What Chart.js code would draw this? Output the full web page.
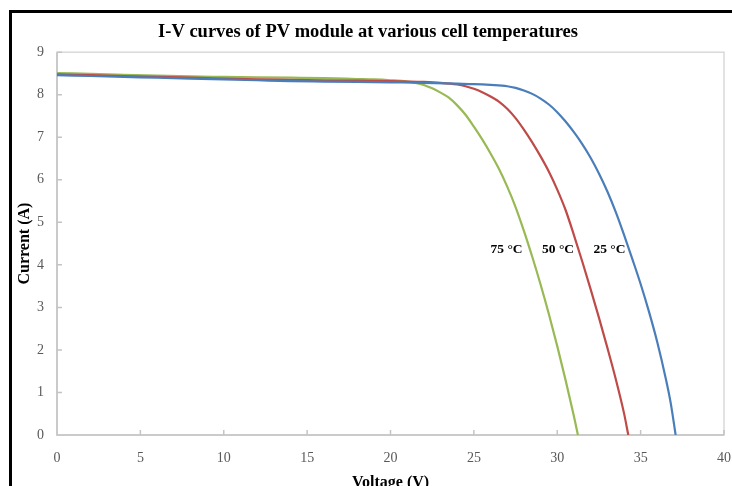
<!DOCTYPE html>
<html><head><meta charset="utf-8">
<script src="https://cdn.jsdelivr.net/npm/chart.js@4.4.0/dist/chart.umd.min.js"></script>
<style>
html,body{margin:0;padding:0;background:#fff;overflow:hidden;}
#wrap{position:relative;width:732px;height:486px;}
#frame{position:absolute;left:9px;top:10px;width:760px;height:520px;border-left:3px solid #000;border-top:3px solid #000;pointer-events:none;}
canvas{position:absolute;left:0;top:0;}
</style></head><body>
<div id="wrap"><canvas id="c" width="732" height="486"></canvas><div id="frame"></div></div>
<script>
// ---- data ----
const seriesNames = ['25 °C', '50 °C', '75 °C'];

const volt25 = [0,2,4,6,8,10,12,14,16,18,20,22,24,25,26,27,27.5,28,28.5,29,29.5,30,30.5,31,31.5,32,32.5,33,33.5,34,34.5,35,35.5,36,36.5,36.8,37.1];
const curr25 = [8.46,8.44,8.42,8.40,8.38,8.36,8.34,8.32,8.31,8.30,8.29,8.28,8.26,8.25,8.23,8.20,8.16,8.10,8.02,7.91,7.77,7.59,7.37,7.12,6.84,6.52,6.15,5.73,5.25,4.71,4.14,3.55,2.90,2.18,1.34,0.76,0];

const volt50 = [0,2,4,6,8,10,12,14,16,18,20,22,23,24,24.5,25,25.5,26,26.5,27,27.5,28,28.5,29,29.5,30,30.5,31,31.5,32,32.5,33,33.5,34,34.26];
const curr50 = [8.48,8.46,8.44,8.42,8.40,8.38,8.36,8.35,8.34,8.33,8.32,8.30,8.28,8.24,8.20,8.14,8.06,7.96,7.84,7.67,7.45,7.18,6.88,6.55,6.19,5.77,5.29,4.70,4.08,3.43,2.76,2.06,1.33,0.52,0];

const volt75 = [0,2,4,6,8,10,12,14,16,18,19,20,21,21.5,22,22.5,23,23.5,24,24.5,25,25.5,26,26.5,27,27.5,28,28.5,29,29.5,30,30.5,31,31.24];
const curr75 = [8.51,8.49,8.47,8.45,8.43,8.42,8.41,8.40,8.39,8.37,8.36,8.34,8.31,8.28,8.23,8.15,8.05,7.93,7.75,7.53,7.25,6.95,6.62,6.26,5.84,5.36,4.80,4.19,3.54,2.84,2.09,1.29,0.44,0];

const xTicks = [0,5,10,15,20,25,30,35,40];
const yTicks = [0,1,2,3,4,5,6,7,8,9];

// curve-label anchor (in data units)
const labelVolt = [33.13, 30.05, 26.96];
const labelCurr = 4.35;

const colors = ['#4A7EBB', '#BE4B48', '#98B954'];
const serif = "'Liberation Serif', 'Times New Roman', serif";

function pts(v, c) { return v.map((x, i) => ({x: x, y: c[i]})); }
const allV = [volt25, volt50, volt75];
const allC = [curr25, curr50, curr75];

const datasets = seriesNames.map((n, k) => ({
  label: n,
  data: pts(allV[k], allC[k]),
  borderColor: colors[k],
  backgroundColor: colors[k],
  borderWidth: 2.2,
  pointRadius: 0,
  showLine: true,
  cubicInterpolationMode: 'monotone',
  fill: false
}));

const framePlugin = {
  id: 'frameTicks',
  beforeDatasetsDraw(chart) {
    const {ctx, chartArea: a, scales: {x, y}} = chart;
    ctx.save();
    ctx.strokeStyle = '#D9D9D9';
    ctx.lineWidth = 1.5;
    ctx.strokeRect(a.left, a.top, a.right - a.left, a.bottom - a.top);
    ctx.strokeStyle = '#C4C4C4';
    ctx.beginPath();
    ctx.moveTo(a.left, a.top); ctx.lineTo(a.left, a.bottom); ctx.lineTo(a.right, a.bottom);
    xTicks.forEach(t => { const p = x.getPixelForValue(t); ctx.moveTo(p, a.bottom); ctx.lineTo(p, a.bottom - 5); });
    yTicks.forEach(t => { const p = y.getPixelForValue(t); ctx.moveTo(a.left, p); ctx.lineTo(a.left + 5, p); });
    ctx.stroke();
    ctx.restore();
  },
  afterDatasetsDraw(chart) {
    const {ctx, scales: {x, y}} = chart;
    ctx.save();
    ctx.font = 'bold 13.5px ' + serif;
    ctx.fillStyle = '#000';
    ctx.textAlign = 'center';
    ctx.textBaseline = 'middle';
    seriesNames.forEach((n, k) => {
      ctx.fillText(n, x.getPixelForValue(labelVolt[k]), y.getPixelForValue(labelCurr));
    });
    ctx.restore();
  }
};

new Chart(document.getElementById('c'), {
  type: 'scatter',
  data: { datasets: datasets },
  options: {
    responsive: false,
    animation: false,
    devicePixelRatio: 1,
    layout: { padding: { left: 12, right: 8, top: 0, bottom: 0 } },
    plugins: {
      legend: { display: false },
      tooltip: { enabled: false },
      title: {
        display: true,
        text: 'I-V curves of PV module at various cell temperatures',
        color: '#000',
        font: { family: serif, size: 18.5, weight: 'bold' },
        padding: { top: 21, bottom: 9 }
      }
    },
    scales: {
      x: {
        type: 'linear', min: 0, max: 40,
        afterBuildTicks: s => { s.ticks = xTicks.map(v => ({value: v})); },
        ticks: { color: '#595959', font: { family: serif, size: 14 }, padding: 7, maxRotation: 0 },
        grid: { display: false },
        border: { display: false },
        title: { display: true, text: 'Voltage (V)', color: '#000', font: { family: serif, size: 16, weight: 'bold' }, padding: { top: 0, bottom: -6.5 } },
        afterFit: s => { s.height = 51; s.paddingRight = 0; s.paddingLeft = 0; }
      },
      y: {
        type: 'linear', min: 0, max: 9,
        afterBuildTicks: s => { s.ticks = yTicks.map(v => ({value: v})); },
        ticks: { color: '#595959', font: { family: serif, size: 14 }, padding: 5 },
        grid: { display: false },
        border: { display: false },
        title: { display: true, text: 'Current (A)', color: '#000', font: { family: serif, size: 16, weight: 'bold' }, padding: { top: 3.5, bottom: 0 } },
        afterFit: s => { s.width = 45; s.paddingTop = 0; s.paddingBottom = 0; }
      }
    }
  },
  plugins: [framePlugin]
});
</script>
</body></html>
